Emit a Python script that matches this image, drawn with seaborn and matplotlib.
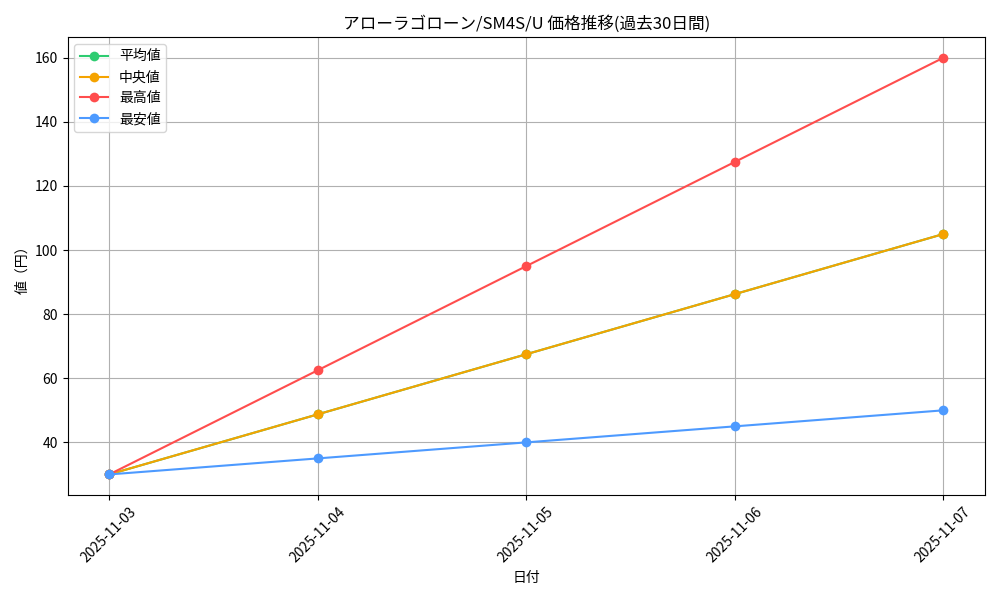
import numpy as np
import pandas as pd
import matplotlib
matplotlib.use("Agg")
import matplotlib.pyplot as plt
import seaborn as sns

DATES = ["2025-11-03", "2025-11-04", "2025-11-05", "2025-11-06", "2025-11-07"]
AVG = [30, 48.75, 67.5, 86.25, 105]
MEDIAN = [30, 48.75, 67.5, 86.25, 105]
MAX = [30, 62.5, 95, 127.5, 160]
MIN = [30, 35, 40, 45, 50]

SERIES = ["平均値", "中央値", "最高値", "最安値"]
COLORS = ["#2ecc71", "#f5a300", "#ff4d4d", "#4d9aff"]

plt.rcParams['font.family'] = ['Noto Sans CJK JP', 'DejaVu Sans']

df = pd.DataFrame({"date": DATES * 4,
                   "value": AVG + MEDIAN + MAX + MIN,
                   "kind": np.repeat(SERIES, len(DATES))})

fig, ax = plt.subplots(figsize=(10, 6), dpi=100)
for name, color in zip(SERIES, COLORS):
    sub = df[df["kind"] == name]
    sns.lineplot(data=sub, x="date", y="value", color=color, marker="o",
                 markersize=7, markeredgewidth=0, linewidth=1.5, label=name, ax=ax)

ax.set_title("アローラゴローン/SM4S/U 価格推移(過去30日間)")
ax.set_xlabel("日付")
ax.set_ylabel("値（円）")
ax.grid(True)
ax.tick_params(axis="x", rotation=45)
ax.legend(loc="upper left")
plt.tight_layout()
plt.savefig("out.png")
